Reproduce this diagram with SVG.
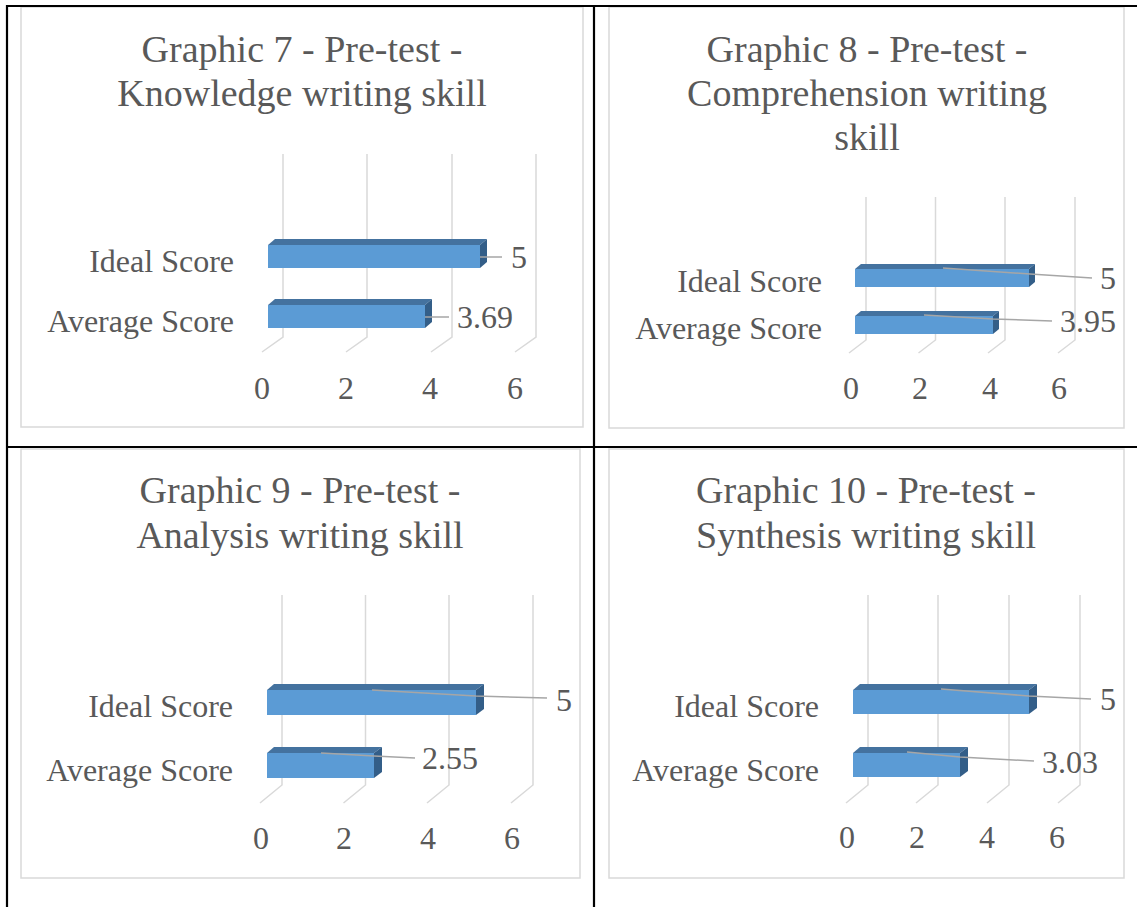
<svg xmlns="http://www.w3.org/2000/svg" width="1137" height="907" viewBox="0 0 1137 907">
<style>
.frame{fill:#fff;stroke:#d9d9d9;stroke-width:1.5}
.grid{stroke:#d9d9d9;stroke-width:1.5;fill:none}
.tbl{stroke:#000;stroke-width:2.2;fill:none}
.front{fill:#5b9bd5}
.top{fill:#44729f}
.side{fill:#335e88}
.lead{stroke:#a6a6a6;stroke-width:1.5;fill:none}
text{font-family:"Liberation Serif","Times New Roman",serif;fill:#595959}
.title{font-size:38px;text-anchor:middle}
.cat{font-size:32px;text-anchor:end}
.ax{font-size:32px;text-anchor:middle}
.val{font-size:32px}
</style>
<rect width="1137" height="907" fill="#fff"/>

<g id="chart7">
<rect class="frame" x="21" y="7" width="562" height="420"/>
<text class="title" x="302" y="62">Graphic 7 - Pre-test -</text>
<text class="title" x="302" y="106">Knowledge writing skill</text>
<path class="grid" d="M283 154V337L262 352M367 154V337L346 352M452 154V337L431 352M536 154V337L515 352"/>
<rect class="front" x="268" y="245" width="212" height="23"/>
<polygon class="top" points="268,245 275,239 487,239 480,245"/>
<polygon class="side" points="480,245 487,239 487,262 480,268"/>
<rect class="front" x="268" y="305" width="157" height="23"/>
<polygon class="top" points="268,305 275,299 432,299 425,305"/>
<polygon class="side" points="425,305 432,299 432,322 425,328"/>
<text class="cat" x="234" y="272">Ideal Score</text>
<text class="cat" x="234" y="332">Average Score</text>
<text class="val" x="511" y="268">5</text>
<text class="val" x="457" y="328">3.69</text>
<text class="ax" x="262" y="399">0</text>
<text class="ax" x="346" y="399">2</text>
<text class="ax" x="430" y="399">4</text>
<text class="ax" x="515" y="399">6</text>
</g>

<g id="chart8">
<rect class="frame" x="609" y="7" width="515" height="421"/>
<text class="title" x="867" y="62">Graphic 8 - Pre-test -</text>
<text class="title" x="867" y="106">Comprehension writing</text>
<text class="title" x="867" y="150">skill</text>
<path class="grid" d="M866 197V340L849 353M935.5 197V340L918.5 353M1005 197V340L988 353M1075 197V340L1058 353"/>
<rect class="front" x="855" y="269" width="174" height="18"/>
<polygon class="top" points="855,269 861,264 1035,264 1029,269"/>
<polygon class="side" points="1029,269 1035,264 1035,282 1029,287"/>
<rect class="front" x="855" y="316" width="138" height="18"/>
<polygon class="top" points="855,316 861,311 999,311 993,316"/>
<polygon class="side" points="993,316 999,311 999,329 993,334"/>
<text class="cat" x="822" y="292">Ideal Score</text>
<text class="cat" x="822" y="339">Average Score</text>
<text class="val" x="1100" y="289">5</text>
<text class="val" x="1060" y="332">3.95</text>
<text class="ax" x="851" y="399">0</text>
<text class="ax" x="920" y="399">2</text>
<text class="ax" x="990" y="399">4</text>
<text class="ax" x="1059" y="399">6</text>
</g>

<g id="chart9">
<rect class="frame" x="21" y="449" width="559" height="429"/>
<text class="title" x="300" y="503">Graphic 9 - Pre-test -</text>
<text class="title" x="300" y="548">Analysis writing skill</text>
<path class="grid" d="M282 595V785L260 803M365.5 595V785L343.5 803M449 595V785L427 803M533 595V785L511 803"/>
<rect class="front" x="267" y="690" width="209" height="25"/>
<polygon class="top" points="267,690 274,684 484,684 476,690"/>
<polygon class="side" points="476,690 484,684 484,709 476,715"/>
<rect class="front" x="267" y="753" width="107" height="25"/>
<polygon class="top" points="267,753 274,747 382,747 374,753"/>
<polygon class="side" points="374,753 382,747 382,772 374,778"/>
<text class="cat" x="233" y="717">Ideal Score</text>
<text class="cat" x="233" y="781">Average Score</text>
<text class="val" x="556" y="711">5</text>
<text class="val" x="422" y="769">2.55</text>
<text class="ax" x="261" y="849">0</text>
<text class="ax" x="344" y="849">2</text>
<text class="ax" x="428" y="849">4</text>
<text class="ax" x="512" y="849">6</text>
</g>

<g id="chart10">
<rect class="frame" x="609" y="449" width="515" height="429"/>
<text class="title" x="866" y="503">Graphic 10 - Pre-test -</text>
<text class="title" x="866" y="548">Synthesis writing skill</text>
<path class="grid" d="M868 595V785L846 803M938 595V785L916 803M1009 595V785L987 803M1080 595V785L1058 803"/>
<rect class="front" x="853" y="690" width="176" height="24"/>
<polygon class="top" points="853,690 860,684 1037,684 1029,690"/>
<polygon class="side" points="1029,690 1037,684 1037,708 1029,714"/>
<rect class="front" x="853" y="753" width="107" height="24"/>
<polygon class="top" points="853,753 860,747 968,747 960,753"/>
<polygon class="side" points="960,753 968,747 968,771 960,777"/>
<text class="cat" x="819" y="717">Ideal Score</text>
<text class="cat" x="819" y="781">Average Score</text>
<text class="val" x="1100" y="710">5</text>
<text class="val" x="1042" y="773">3.03</text>
<text class="ax" x="847" y="848">0</text>
<text class="ax" x="917" y="848">2</text>
<text class="ax" x="987" y="848">4</text>
<text class="ax" x="1057" y="848">6</text>
</g>

<g id="leaders">
<path class="lead" d="M480 257H502"/>
<path class="lead" d="M425 317H449"/>
<polyline class="lead" points="943,268 1030,274 1092,278"/>
<polyline class="lead" points="924,315 993,319 1052,321"/>
<polyline class="lead" points="372,690 476,696 547,698"/>
<polyline class="lead" points="321,753 374,756 415,758"/>
<polyline class="lead" points="941,689 1029,696 1091,699"/>
<polyline class="lead" points="907,752 960,757 1034,761"/>
</g>

<g id="table">
<path class="tbl" d="M6 6H1137M7 5V907M594 6V907M6 447H1137"/>
</g>
</svg>
